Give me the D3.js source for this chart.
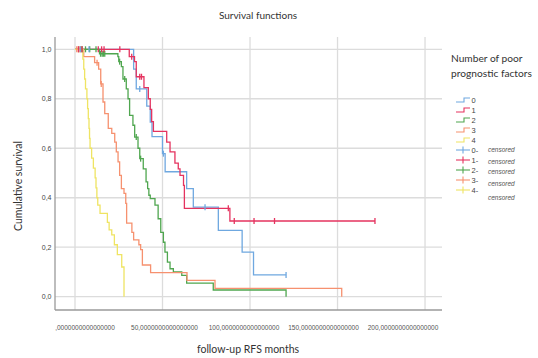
<!DOCTYPE html>
<html>
<head>
<meta charset="utf-8">
<script src="https://cdn.jsdelivr.net/npm/d3@7"></script>
<style>
html,body{margin:0;padding:0;background:#fff;}
svg{display:block;}
</style>
</head>
<body>
<svg id="chart" width="538" height="358"></svg>
<script>
// ---- data ----
const groups = ["0", "1", "2", "3", "4"];
const xTicks = [0, 50, 100, 150, 200];
const xTickLabels = [",0000000000000000", "50,0000000000000000", "100,0000000000000000", "150,0000000000000000", "200,0000000000000000"];
const yTicks = [0, 0.2, 0.4, 0.6, 0.8, 1.0];
const yTickLabels = ["0,0", "0,2", "0,4", "0,6", "0,8", "1,0"];

// event steps: [time, survival after step]
const events0 = [[33.5,0.92],[35,0.84],[41,0.77],[43,0.706],[44,0.647],[50,0.578],[51.5,0.505],[63.8,0.437],[67.6,0.362],[81.9,0.268],[95.5,0.18],[102,0.088]];
const censor0 = [3, 8, 37, 50.5, 74.3, 120.6];
const end0 = 120.6;

const events1 = [[31,0.97],[34,0.95],[35,0.889],[39.4,0.845],[41.9,0.80],[43,0.757],[43.8,0.708],[44.8,0.668],[52.4,0.625],[54.3,0.585],[57.1,0.54],[59,0.517],[60,0.49],[62,0.45],[62.5,0.357],[88.5,0.306]];
const censor1 = [2, 4, 13.3, 15.2, 16.6, 25.6, 32.4, 37, 38, 87.6, 91, 102.3, 114, 171.4];
const end1 = 171.4;

const events2 = [[14,0.982],[24.5,0.97],[25,0.95],[26.5,0.93],[27.4,0.88],[29.3,0.84],[30.3,0.80],[31.2,0.733],[33.1,0.693],[34.1,0.645],[36,0.60],[37,0.558],[39,0.517],[40.6,0.464],[41.5,0.437],[42.2,0.41],[43,0.396],[45.7,0.37],[47.5,0.315],[49,0.26],[50.5,0.22],[51.4,0.18],[52.8,0.14],[54.3,0.113],[56.2,0.1],[61,0.086],[63.8,0.055],[79,0.027],[120.6,0]];
const censor2 = [4, 6, 8.4, 12, 14.6, 15.5, 16.2, 17, 25.5, 28.4, 35, 37.5];
const end2 = 120.6;

const events3 = [[5,0.97],[11.2,0.946],[13.5,0.92],[14.7,0.86],[16,0.787],[17,0.74],[19,0.68],[21,0.66],[22.7,0.625],[23.6,0.585],[24.6,0.545],[25.5,0.49],[26.5,0.437],[28,0.418],[29,0.377],[29.5,0.297],[32.5,0.26],[33.5,0.23],[36.5,0.21],[37.5,0.19],[38.5,0.128],[43.2,0.097],[64,0.066],[80,0.034],[152.4,0]];
const censor3 = [1, 2, 3, 4, 12.6, 15];
const end3 = 152.4;

const events4 = [[4.5,0.96],[5,0.92],[5.5,0.88],[6,0.84],[6.8,0.80],[7.2,0.76],[7.6,0.72],[8,0.68],[8.3,0.64],[8.6,0.60],[9.5,0.56],[10.5,0.52],[11.5,0.48],[12,0.44],[12.5,0.40],[13,0.37],[14.3,0.337],[18.5,0.30],[19.5,0.27],[21,0.25],[22.5,0.21],[24.2,0.17],[26.7,0.12],[28,0]];
const censor4 = [2, 3];
const end4 = 28;

const colors = ["#6fa8e0", "#e5335f", "#4fa64f", "#f6916f", "#efe463"];

const series = [
  {name: groups[0], events: events0, censor: censor0, end: end0, color: colors[0]},
  {name: groups[1], events: events1, censor: censor1, end: end1, color: colors[1]},
  {name: groups[2], events: events2, censor: censor2, end: end2, color: colors[2]},
  {name: groups[3], events: events3, censor: censor3, end: end3, color: colors[3]},
  {name: groups[4], events: events4, censor: censor4, end: end4, color: colors[4]}
];

// ---- layout ----
const svg = d3.select("#chart");
const L = 55, R = 442, T = 37, B = 310;
const x = d3.scaleLinear().domain([-11.43, 209.7]).range([L, R]);
const y = d3.scaleLinear().domain([-0.0538, 1.0497]).range([B, T]);
const labelX = d3.scaleLinear().domain([0, 200]).range([85, 403]);

// gridlines
svg.append("g").selectAll("line.h").data(yTicks).join("line")
  .attr("x1", L).attr("x2", R).attr("y1", d => y(d)).attr("y2", d => y(d))
  .attr("stroke", "#dcdcdc").attr("stroke-width", 1.3);
svg.append("g").selectAll("line.v").data(xTicks).join("line")
  .attr("x1", d => x(d)).attr("x2", d => x(d)).attr("y1", T).attr("y2", B)
  .attr("stroke", "#dcdcdc").attr("stroke-width", 1.3);

// axis lines
svg.append("line").attr("x1", L).attr("x2", L).attr("y1", T).attr("y2", B)
  .attr("stroke", "#9a9a9a").attr("stroke-width", 1.3);
svg.append("line").attr("x1", L).attr("x2", R).attr("y1", B).attr("y2", B)
  .attr("stroke", "#9a9a9a").attr("stroke-width", 1.3);

// tick labels
svg.append("g").selectAll("text").data(yTicks).join("text")
  .attr("x", 51.5).attr("y", d => y(d) + 2.5)
  .attr("text-anchor", "end")
  .attr("font-family", "Liberation Sans, Arial, sans-serif")
  .attr("font-size", 7).attr("fill", "#444")
  .text((d, i) => yTickLabels[i]);
svg.append("g").selectAll("text").data(xTicks).join("text")
  .attr("x", d => labelX(d)).attr("y", 330)
  .attr("text-anchor", "middle")
  .attr("font-family", "Liberation Sans, Arial, sans-serif")
  .attr("font-size", 6.5).attr("fill", "#555")
  .text((d, i) => xTickLabels[i]);

// titles
svg.append("text").attr("x", 258).attr("y", 18.5).attr("text-anchor", "middle")
  .attr("font-family", "Lato, sans-serif").attr("font-size", 10).attr("fill", "#333")
  .text("Survival functions");
svg.append("text").attr("transform", "translate(21.5,186) rotate(-90)").attr("text-anchor", "middle")
  .attr("font-family", "Lato, sans-serif").attr("font-size", 10.5).attr("fill", "#333")
  .text("Cumulative survival");
svg.append("text").attr("x", 248).attr("y", 352.5).attr("text-anchor", "middle")
  .attr("font-family", "Lato, sans-serif").attr("font-size", 10.5).attr("fill", "#333")
  .text("follow-up RFS months");

// curves
const line = d3.line().x(d => x(d[0])).y(d => y(d[1])).curve(d3.curveStepAfter);
function stepValue(s, t) {
  let v = 1;
  for (const e of s.events) { if (e[0] <= t) v = e[1]; else break; }
  return v;
}
series.forEach(s => {
  const pts = [[0, 1]].concat(s.events);
  const last = pts[pts.length - 1];
  if (last[0] < s.end) pts.push([s.end, last[1]]);
  svg.append("path").datum(pts).attr("d", line)
    .attr("fill", "none").attr("stroke", s.color).attr("stroke-width", 1.3);
});
// censor marks (drawn after lines)
[4, 3, 2, 0, 1].forEach(i => {
  const s = series[i];
  svg.append("g").selectAll("line").data(s.censor).join("line")
    .attr("x1", d => x(d)).attr("x2", d => x(d))
    .attr("y1", d => y(stepValue(s, d)) - 3).attr("y2", d => y(stepValue(s, d)) + 3)
    .attr("stroke", s.color).attr("stroke-width", 1.3);
});

// legend
const lg = svg.append("g");
lg.append("text").attr("x", 451).attr("y", 62).attr("font-family", "Lato, sans-serif")
  .attr("font-size", 10.2).attr("fill", "#333").text("Number of poor");
lg.append("text").attr("x", 451).attr("y", 77).attr("font-family", "Lato, sans-serif")
  .attr("font-size", 10.2).attr("fill", "#333")
  .text("prognostic factors");

const rowY = d3.scaleLinear().domain([0, 9]).range([100, 190]);
series.forEach((s, i) => {
  const cy = rowY(i);
  lg.append("path")
    .attr("d", `M456,${cy + 2}H464V${cy - 2}H470`)
    .attr("fill", "none").attr("stroke", s.color).attr("stroke-width", 1.1);
  lg.append("text").attr("x", 471.5).attr("y", cy + 2.8)
    .attr("font-family", "Liberation Sans, Arial, sans-serif").attr("font-size", 7.5)
    .attr("fill", "#444").text(s.name);
});
const censY = [150, 162, 172, 184, 197.5];
series.forEach((s, i) => {
  const cy = rowY(i + 5);
  lg.append("line").attr("x1", 456).attr("x2", 470).attr("y1", cy).attr("y2", cy)
    .attr("stroke", s.color).attr("stroke-width", 1.1);
  lg.append("line").attr("x1", 463).attr("x2", 463).attr("y1", cy - 3.5).attr("y2", cy + 3.5)
    .attr("stroke", s.color).attr("stroke-width", 1.1);
  lg.append("text").attr("x", 471.5).attr("y", cy + 2.8)
    .attr("font-family", "Liberation Sans, Arial, sans-serif").attr("font-size", 7.5)
    .attr("fill", "#444").text(s.name + "-");
  lg.append("text").attr("x", 488).attr("y", censY[i] + 2.2)
    .attr("font-family", "Liberation Sans, Arial, sans-serif").attr("font-size", 6.5)
    .attr("font-style", "italic").attr("fill", "#555").text("censored");
});
</script>
</body>
</html>
